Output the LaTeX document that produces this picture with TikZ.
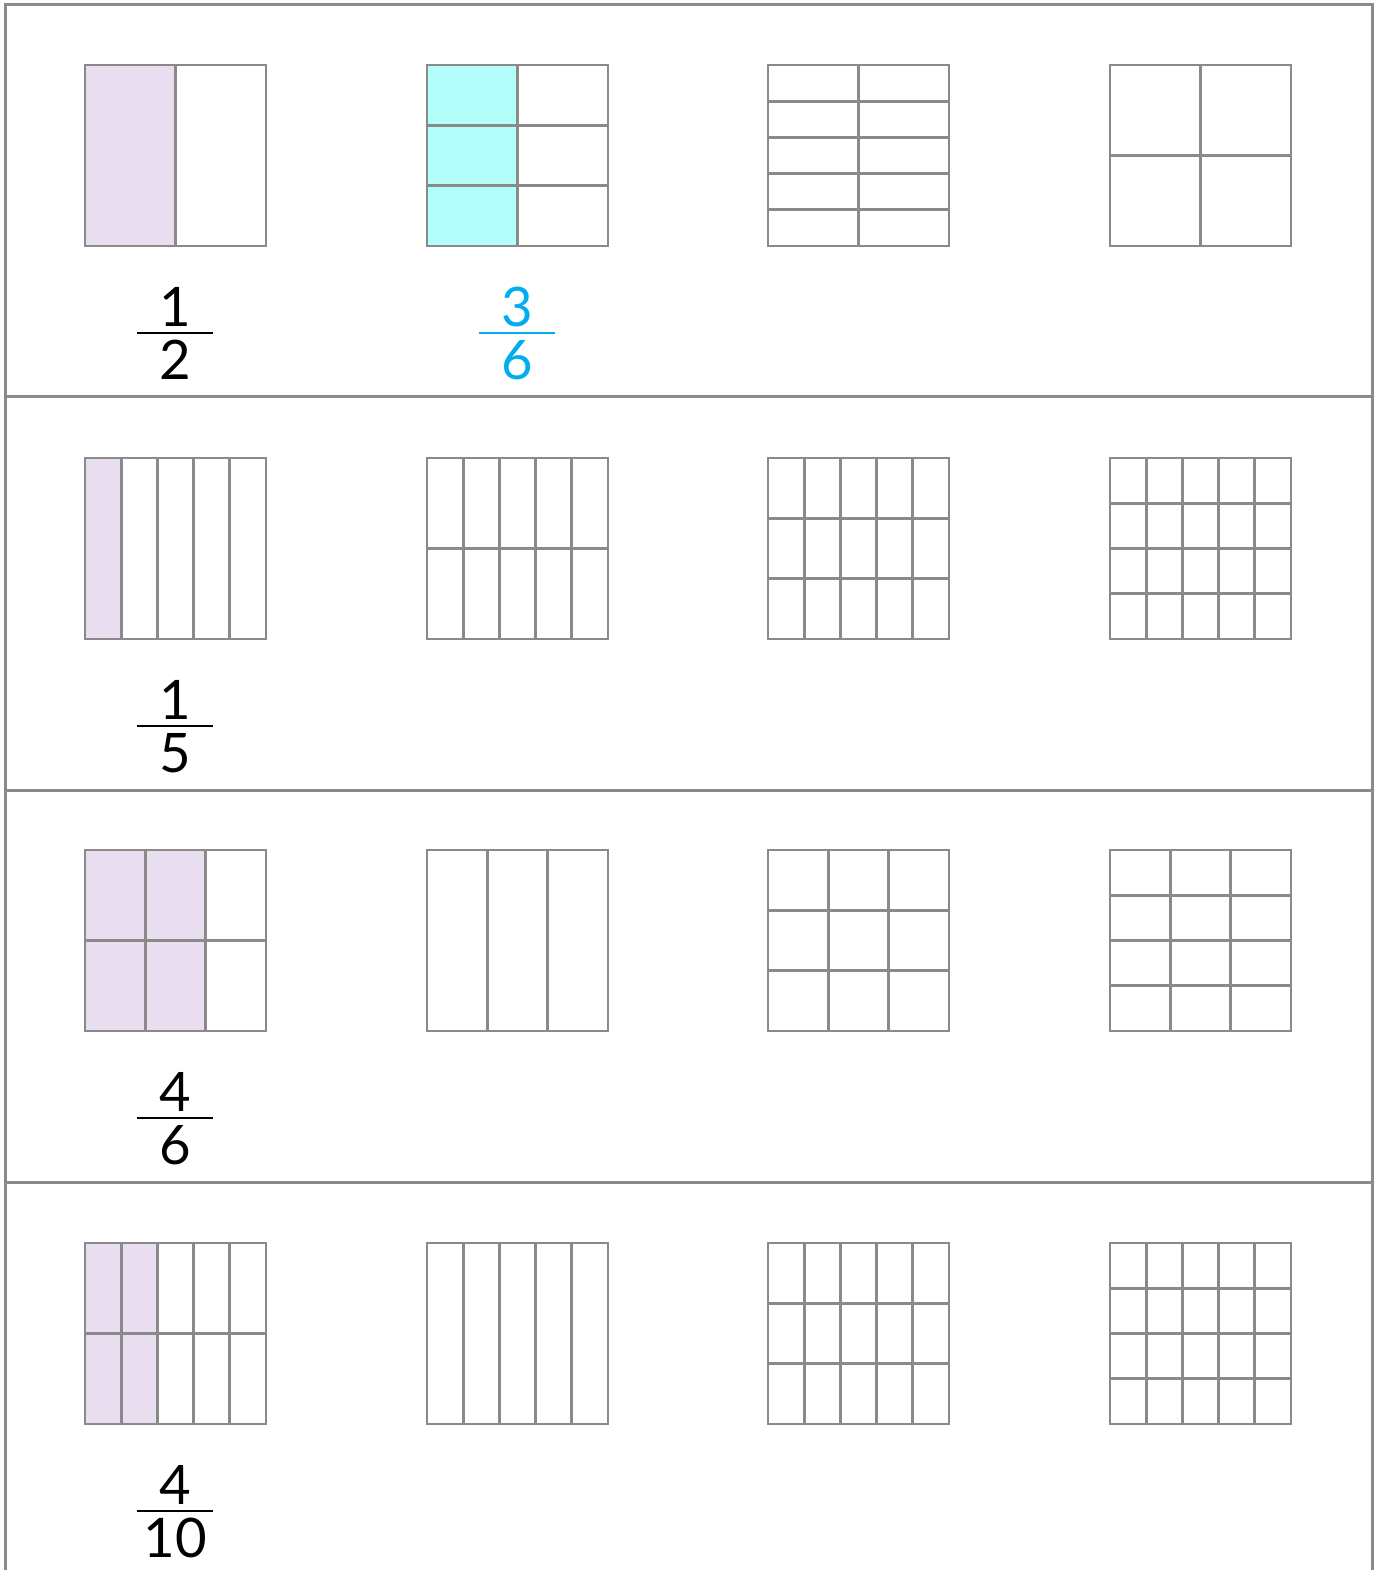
\documentclass[tikz,border=0pt]{standalone}
\usepackage{fontspec}
\setmainfont{Lato}
\usetikzlibrary{positioning}
\definecolor{cLine}{HTML}{8A8A8A}
\definecolor{cPurple}{HTML}{E9DEF0}
\definecolor{cCyan}{HTML}{B3FEFB}
\definecolor{cBlue}{HTML}{00AEEF}
% grid at top-left (#1,#2): #3 columns, #4 rows, first #5 columns filled with #6
\newcommand{\fgrid}[6]{%
  \fill[#6] (#1,#2) rectangle ++({181*#5/#3},181);
  \foreach \k in {1,...,#3}{\draw[gline] ({#1+181*\k/#3},#2) -- ++(0,181);}
  \foreach \k in {1,...,#4}{\draw[gline] (#1,{#2+181*\k/#4}) -- ++(181,0);}
  \draw[gline] (#1,#2) rectangle ++(181,181);
}

\begin{document}
\begin{tikzpicture}[
  x=0.2mm,y=-0.2mm,
  gline/.style={draw=cLine,line width=0.55mm},
  frame/.style={draw=cLine,line width=0.6mm},
  digit/.style={font=\fontsize{31}{36}\selectfont,inner sep=0pt},
  bar/.style={line width=0.4mm}
]
\useasboundingbox (0,0) rectangle (1381,1570);

% frame and row dividers
\draw[frame] (5,1570) -- (5,5) -- (1372,5) -- (1372,1570);
\foreach \y in {397,790,1182}{\draw[frame] (5,\y) -- (1372,\y);}

% row 1
\fgrid{85}{65}{2}{1}{1}{cPurple}
\fgrid{427}{65}{2}{3}{1}{cCyan}
\fgrid{768}{65}{2}{5}{0}{white}
\fgrid{1110}{65}{2}{2}{0}{white}
% row 2
\fgrid{85}{458}{5}{1}{1}{cPurple}
\fgrid{427}{458}{5}{2}{0}{white}
\fgrid{768}{458}{5}{3}{0}{white}
\fgrid{1110}{458}{5}{4}{0}{white}
% row 3
\fgrid{85}{850}{3}{2}{2}{cPurple}
\fgrid{427}{850}{3}{1}{0}{white}
\fgrid{768}{850}{3}{3}{0}{white}
\fgrid{1110}{850}{3}{4}{0}{white}
% row 4
\fgrid{85}{1243}{5}{2}{2}{cPurple}
\fgrid{427}{1243}{5}{1}{0}{white}
\fgrid{768}{1243}{5}{3}{0}{white}
\fgrid{1110}{1243}{5}{4}{0}{white}

% fractions
\node[digit] (n1) at (175,307) {1};
\node[digit] (d1) at (175,360) {2};
\draw[bar] (137,333) coordinate (b1l) -- (213,333) coordinate (b1r);
\node[digit,text=cBlue] (n2) at (517,307) {3};
\node[digit,text=cBlue] (d2) at (517,360) {6};
\draw[bar,cBlue] (479,333) coordinate (b2l) -- (555,333) coordinate (b2r);
\node[digit] (n3) at (175,700) {1};
\node[digit] (d3) at (175,753) {5};
\draw[bar] (137,726) coordinate (b3l) -- (213,726) coordinate (b3r);
\node[digit] (n4) at (175,1092) {4};
\node[digit] (d4) at (175,1145) {6};
\draw[bar] (137,1118) coordinate (b4l) -- (213,1118) coordinate (b4r);
\node[digit] (n5) at (175,1485) {4};
\node[digit] (d5) at (175,1538) {10};
\draw[bar] (137,1511) coordinate (b5l) -- (213,1511) coordinate (b5r);
\end{tikzpicture}
\end{document}
